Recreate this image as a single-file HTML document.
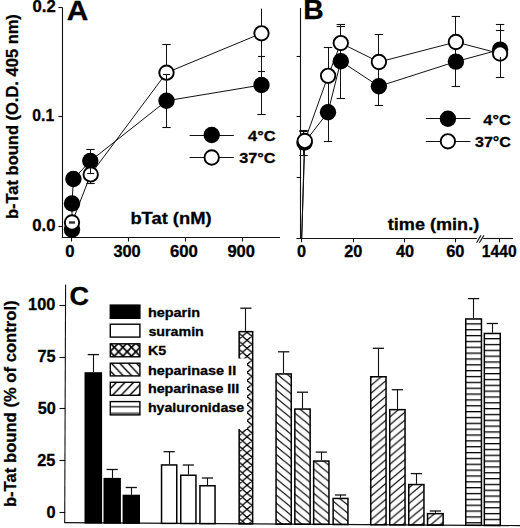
<!DOCTYPE html>
<html><head><meta charset="utf-8"><style>
html,body{margin:0;padding:0;background:#fff;}
svg{display:block;}
text{font-family:"Liberation Sans", sans-serif;font-weight:bold;fill:#000;stroke:#000;stroke-width:0.3px;stroke-linejoin:round;}
</style></head><body>
<svg width="520" height="528" viewBox="0 0 520 528">

<defs>
 <pattern id="xh" patternUnits="userSpaceOnUse" x="242.4" y="448.9" width="9.32" height="8.05">
  <path d="M-1,-0.86 L10.32,8.91 M-1,8.91 L10.32,-0.86 M-1,7.19 L1,8.91 M8.32,-0.86 L10.32,0.86" stroke="#000" stroke-width="1.3" fill="none"/>
 </pattern>
 <pattern id="bs" patternUnits="userSpaceOnUse" x="275" y="453.5" width="9.88" height="8.1">
  <path d="M-2,-1.64 L11.88,9.74 M-11.88,-1.64 L2,9.74 M7.88,-1.64 L21.76,9.74" stroke="#000" stroke-width="1.2" fill="none"/>
 </pattern>
 <pattern id="fs" patternUnits="userSpaceOnUse" x="370" y="457.3" width="9.4" height="7.9">
  <path d="M-2,9.58 L11.4,-1.68 M-11.4,9.58 L2,-1.68 M7.4,9.58 L20.8,-1.68" stroke="#000" stroke-width="1.2" fill="none"/>
 </pattern>
 <pattern id="hz" patternUnits="userSpaceOnUse" x="0" y="334.95" width="40" height="5.85">
  <rect x="0" y="0" width="40" height="1.3" fill="#000"/>
 </pattern>
 <pattern id="hz2" patternUnits="userSpaceOnUse" x="0" y="338.05" width="40" height="5.83">
  <rect x="0" y="0" width="40" height="1.3" fill="#000"/>
 </pattern>
 <pattern id="xhl" patternUnits="userSpaceOnUse" x="118.6" y="351.7" width="8.6" height="8.8">
  <path d="M-1,-1.02 L9.6,9.82 M-1,9.82 L9.6,-1.02" stroke="#000" stroke-width="1.7" fill="none"/>
 </pattern>
 <pattern id="bsl" patternUnits="userSpaceOnUse" x="119.5" y="363" width="8.4" height="8.8">
  <path d="M-2,-2.1 L10.4,10.9 M-10.4,-2.1 L2,10.9 M6.4,-2.1 L18.8,10.9" stroke="#000" stroke-width="1.4" fill="none"/>
 </pattern>
 <pattern id="fsl" patternUnits="userSpaceOnUse" x="112.9" y="394.8" width="8.6" height="8.86">
  <path d="M-2,10.92 L10.6,-2.06 M-10.6,10.92 L2,-2.06 M6.6,10.92 L19.2,-2.06" stroke="#000" stroke-width="1.4" fill="none"/>
 </pattern>
 <pattern id="hzl" patternUnits="userSpaceOnUse" x="0" y="400.7" width="40" height="14.3">
  <rect x="0" y="5.5" width="40" height="1.2" fill="#000"/>
  <rect x="0" y="11.7" width="40" height="2.0" fill="#666"/>
 </pattern>
</defs>

<rect x="0" y="0" width="520" height="528" fill="#fff"/>
<line x1="62.5" y1="7.5" x2="62.5" y2="237.8" stroke="#111" stroke-width="1.1"/>
<line x1="61.8" y1="237.5" x2="280" y2="237.5" stroke="#111" stroke-width="1.1"/>
<line x1="58.4" y1="7.5" x2="62.3" y2="7.5" stroke="#111" stroke-width="1.1"/>
<line x1="58.4" y1="116.5" x2="62.3" y2="116.5" stroke="#111" stroke-width="1.1"/>
<line x1="58.4" y1="226.5" x2="62.3" y2="226.5" stroke="#111" stroke-width="1.1"/>
<line x1="71.5" y1="237.6" x2="71.5" y2="241.5" stroke="#111" stroke-width="1.1"/>
<line x1="128.5" y1="237.6" x2="128.5" y2="241.5" stroke="#111" stroke-width="1.1"/>
<line x1="185.5" y1="237.6" x2="185.5" y2="241.5" stroke="#111" stroke-width="1.1"/>
<line x1="242.5" y1="237.6" x2="242.5" y2="241.5" stroke="#111" stroke-width="1.1"/>
<text transform="translate(32.53,12.00) scale(1.026,1)" font-size="16.3">0.2</text>
<text transform="translate(32.37,121.20) scale(0.963,1)" font-size="16.3">0.1</text>
<text transform="translate(32.33,230.70) scale(1.026,1)" font-size="16.3">0.0</text>
<text transform="translate(65.33,257.00) scale(1.033,1)" font-size="16.3">0</text>
<text transform="translate(113.39,257.00) scale(1.005,1)" font-size="16.3">300</text>
<text transform="translate(169.91,257.20) scale(1.030,1)" font-size="16.3">600</text>
<text transform="translate(227.42,257.20) scale(1.015,1)" font-size="16.3">900</text>
<text transform="translate(66.75,19.80) scale(1.047,1)" font-size="28.5">A</text>
<text transform="translate(130.41,224.20) scale(1.126,1)" font-size="16.3">bTat (nM)</text>
<line x1="189.6" y1="135.5" x2="233.8" y2="135.5" stroke="#111" stroke-width="1.0"/>
<circle cx="211.7" cy="135" r="8.2" fill="#000"/>
<line x1="189.6" y1="157.5" x2="233.8" y2="157.5" stroke="#111" stroke-width="1.0"/>
<circle cx="211.7" cy="157.5" r="7.2" fill="#fff" stroke="#000" stroke-width="1.9"/>
<text transform="translate(248.05,141.40) scale(1.058,1)" font-size="15.5">4°C</text>
<text transform="translate(239.19,163.40) scale(1.051,1)" font-size="15.5">37°C</text>
<text transform="translate(18.00,219.07) rotate(-90) scale(0.988,1)" font-size="16.7">b-Tat bound (O.D. 405 nm)</text>
<polyline points="72,229.8 72,203.5 73.4,179 90.3,161.0 166.5,100.8 261.5,85" fill="none" stroke="#111" stroke-width="1.0"/>
<polyline points="72,222.5 90.7,174.4 166.5,72.7 261.5,33.3" fill="none" stroke="#111" stroke-width="1.0"/>
<line x1="90.5" y1="149.2" x2="90.5" y2="183.8" stroke="#111" stroke-width="1.0"/>
<line x1="86.3" y1="149.5" x2="94.7" y2="149.5" stroke="#111" stroke-width="1.1"/>
<line x1="86.3" y1="183.5" x2="94.7" y2="183.5" stroke="#111" stroke-width="1.1"/>
<line x1="166.5" y1="44.6" x2="166.5" y2="127.9" stroke="#111" stroke-width="1.0"/>
<line x1="162.3" y1="44.5" x2="170.7" y2="44.5" stroke="#111" stroke-width="1.1"/>
<line x1="162.3" y1="127.5" x2="170.7" y2="127.5" stroke="#111" stroke-width="1.1"/>
<line x1="261.5" y1="8.6" x2="261.5" y2="114.1" stroke="#111" stroke-width="1.0"/>
<line x1="257.3" y1="114.5" x2="265.7" y2="114.5" stroke="#111" stroke-width="1.1"/>
<circle cx="72" cy="229.8" r="8.2" fill="#000"/>
<circle cx="72" cy="203.5" r="8.2" fill="#000"/>
<circle cx="73.4" cy="179" r="8.2" fill="#000"/>
<circle cx="90.3" cy="161.0" r="8.2" fill="#000"/>
<circle cx="166.5" cy="100.8" r="8.2" fill="#000"/>
<circle cx="261.5" cy="85" r="8.2" fill="#000"/>
<circle cx="72" cy="222.5" r="7.2" fill="#fff" stroke="#000" stroke-width="1.9"/>
<circle cx="90.7" cy="174.4" r="7.2" fill="#fff" stroke="#000" stroke-width="1.9"/>
<circle cx="166.5" cy="72.7" r="7.2" fill="#fff" stroke="#000" stroke-width="1.9"/>
<circle cx="261.5" cy="33.3" r="7.2" fill="#fff" stroke="#000" stroke-width="1.9"/>
<line x1="87.2" y1="173.5" x2="94.2" y2="173.5" stroke="#111" stroke-width="1.1"/>
<line x1="90.5" y1="167.5" x2="90.5" y2="173.4" stroke="#111" stroke-width="1.0"/>
<line x1="163.0" y1="74.5" x2="170.0" y2="74.5" stroke="#111" stroke-width="1.1"/>
<line x1="166.5" y1="74.2" x2="166.5" y2="80.5" stroke="#111" stroke-width="1.0"/>
<line x1="258.0" y1="56.5" x2="265.0" y2="56.5" stroke="#111" stroke-width="1.1"/>
<line x1="258.0" y1="71.5" x2="265.0" y2="71.5" stroke="#111" stroke-width="1.1"/>
<rect x="69" y="221.3" width="6" height="2.4" fill="#333"/>
<line x1="300.5" y1="8" x2="300.5" y2="238.6" stroke="#111" stroke-width="1.1"/>
<line x1="296.6" y1="56.5" x2="300.4" y2="56.5" stroke="#111" stroke-width="1.1"/>
<line x1="296.6" y1="116.5" x2="300.4" y2="116.5" stroke="#111" stroke-width="1.1"/>
<line x1="296.6" y1="177.5" x2="300.4" y2="177.5" stroke="#111" stroke-width="1.1"/>
<line x1="296.4" y1="238.5" x2="476.8" y2="238.5" stroke="#111" stroke-width="1.1"/>
<line x1="483.2" y1="238.5" x2="513.1" y2="238.5" stroke="#111" stroke-width="1.1"/>
<line x1="476.6" y1="242.8" x2="480.9" y2="235.4" stroke="#111" stroke-width="1.1"/>
<line x1="479.3" y1="242.8" x2="484.0" y2="235.4" stroke="#111" stroke-width="1.1"/>
<line x1="301.5" y1="238.6" x2="301.5" y2="242.3" stroke="#111" stroke-width="1.1"/>
<line x1="353.5" y1="238.6" x2="353.5" y2="242.3" stroke="#111" stroke-width="1.1"/>
<line x1="404.5" y1="238.6" x2="404.5" y2="242.3" stroke="#111" stroke-width="1.1"/>
<line x1="455.5" y1="238.6" x2="455.5" y2="242.3" stroke="#111" stroke-width="1.1"/>
<line x1="499.5" y1="238.6" x2="499.5" y2="242.3" stroke="#111" stroke-width="1.1"/>
<text transform="translate(297.08,257.10) scale(1.000,1)" font-size="16.3">0</text>
<text transform="translate(344.19,257.10) scale(1.000,1)" font-size="16.3">20</text>
<text transform="translate(396.06,257.10) scale(1.000,1)" font-size="16.3">40</text>
<text transform="translate(446.23,257.10) scale(1.008,1)" font-size="16.3">60</text>
<text transform="translate(481.78,257.10) scale(0.961,1)" font-size="16.3">1440</text>
<text transform="translate(303.36,18.75) scale(1.031,1)" font-size="27.5">B</text>
<text transform="translate(387.82,229.60) scale(1.109,1)" font-size="16.3">time (min.)</text>
<line x1="425.8" y1="118.5" x2="470.4" y2="118.5" stroke="#111" stroke-width="1.0"/>
<circle cx="447.9" cy="118.8" r="8.2" fill="#000"/>
<line x1="425.8" y1="141.5" x2="470.4" y2="141.5" stroke="#111" stroke-width="1.0"/>
<circle cx="447.9" cy="141.3" r="7.2" fill="#fff" stroke="#000" stroke-width="1.9"/>
<text transform="translate(483.25,125.20) scale(1.061,1)" font-size="15.5">4°C</text>
<text transform="translate(475.00,147.40) scale(1.036,1)" font-size="15.5">37°C</text>
<polyline points="301.7,238.6 304.5,142.5 328,112.2 340.8,61.25 378.9,86.3 455.9,61.6 500.1,49.6" fill="none" stroke="#111" stroke-width="1.0"/>
<polyline points="301.7,238.6 304.8,140.9 328.1,75.8 340.8,43.1 378.9,62 455.9,42 500.1,53.6" fill="none" stroke="#111" stroke-width="1.0"/>
<line x1="303.5" y1="130.2" x2="303.5" y2="155.5" stroke="#111" stroke-width="1.0"/>
<line x1="299.3" y1="130.5" x2="307.7" y2="130.5" stroke="#111" stroke-width="1.1"/>
<line x1="299.3" y1="131.5" x2="307.7" y2="131.5" stroke="#111" stroke-width="1.1"/>
<line x1="299.3" y1="149.5" x2="307.7" y2="149.5" stroke="#111" stroke-width="1.1"/>
<line x1="299.3" y1="155.5" x2="307.7" y2="155.5" stroke="#111" stroke-width="1.1"/>
<line x1="328.5" y1="47.7" x2="328.5" y2="141.6" stroke="#111" stroke-width="1.0"/>
<line x1="323.8" y1="47.5" x2="332.2" y2="47.5" stroke="#111" stroke-width="1.1"/>
<line x1="323.8" y1="141.5" x2="332.2" y2="141.5" stroke="#111" stroke-width="1.1"/>
<line x1="340.5" y1="24.8" x2="340.5" y2="98.3" stroke="#111" stroke-width="1.0"/>
<line x1="336.6" y1="24.5" x2="345.0" y2="24.5" stroke="#111" stroke-width="1.1"/>
<line x1="336.6" y1="26.5" x2="345.0" y2="26.5" stroke="#111" stroke-width="1.1"/>
<line x1="336.6" y1="98.5" x2="345.0" y2="98.5" stroke="#111" stroke-width="1.1"/>
<line x1="378.5" y1="34.8" x2="378.5" y2="105.2" stroke="#111" stroke-width="1.0"/>
<line x1="374.7" y1="34.5" x2="383.09999999999997" y2="34.5" stroke="#111" stroke-width="1.1"/>
<line x1="374.7" y1="105.5" x2="383.09999999999997" y2="105.5" stroke="#111" stroke-width="1.1"/>
<line x1="455.5" y1="16.7" x2="455.5" y2="86.2" stroke="#111" stroke-width="1.0"/>
<line x1="451.7" y1="16.5" x2="460.09999999999997" y2="16.5" stroke="#111" stroke-width="1.1"/>
<line x1="451.7" y1="86.5" x2="460.09999999999997" y2="86.5" stroke="#111" stroke-width="1.1"/>
<line x1="500.5" y1="24" x2="500.5" y2="77.1" stroke="#111" stroke-width="1.0"/>
<line x1="495.90000000000003" y1="24.5" x2="504.3" y2="24.5" stroke="#111" stroke-width="1.1"/>
<line x1="495.90000000000003" y1="30.5" x2="504.3" y2="30.5" stroke="#111" stroke-width="1.1"/>
<line x1="495.90000000000003" y1="77.5" x2="504.3" y2="77.5" stroke="#111" stroke-width="1.1"/>
<circle cx="304.5" cy="142.5" r="8.2" fill="#000"/>
<circle cx="328" cy="112.2" r="8.2" fill="#000"/>
<circle cx="340.8" cy="61.25" r="8.2" fill="#000"/>
<circle cx="378.9" cy="86.3" r="8.2" fill="#000"/>
<circle cx="455.9" cy="61.6" r="8.2" fill="#000"/>
<circle cx="500.1" cy="49.6" r="8.2" fill="#000"/>
<circle cx="304.8" cy="140.9" r="7.2" fill="#fff" stroke="#000" stroke-width="1.9"/>
<circle cx="328.1" cy="75.8" r="7.2" fill="#fff" stroke="#000" stroke-width="1.9"/>
<circle cx="340.8" cy="43.1" r="7.2" fill="#fff" stroke="#000" stroke-width="1.9"/>
<circle cx="378.9" cy="62" r="7.2" fill="#fff" stroke="#000" stroke-width="1.9"/>
<circle cx="455.9" cy="42" r="7.2" fill="#fff" stroke="#000" stroke-width="1.9"/>
<circle cx="500.1" cy="53.6" r="7.2" fill="#fff" stroke="#000" stroke-width="1.9"/>
<line x1="500.5" y1="57" x2="500.5" y2="62" stroke="#111" stroke-width="1.0"/>
<line x1="65.6" y1="284.5" x2="64.7" y2="523" stroke="#111" stroke-width="1.1"/>
<line x1="59.5" y1="305.5" x2="65.2" y2="305.5" stroke="#111" stroke-width="1.1"/>
<line x1="59.5" y1="357.5" x2="65.2" y2="357.5" stroke="#111" stroke-width="1.1"/>
<line x1="59.5" y1="408.5" x2="65.2" y2="408.5" stroke="#111" stroke-width="1.1"/>
<line x1="59.5" y1="460.5" x2="65.2" y2="460.5" stroke="#111" stroke-width="1.1"/>
<line x1="59.5" y1="512.5" x2="65.2" y2="512.5" stroke="#111" stroke-width="1.1"/>
<line x1="64.5" y1="522.7" x2="520" y2="525.6" stroke="#111" stroke-width="1.2"/>
<text transform="translate(69.52,305.00) scale(1.039,1)" font-size="26.0">C</text>
<text transform="translate(28.11,310.40) scale(1.000,1)" font-size="16.3">100</text>
<text transform="translate(37.51,361.80) scale(1.000,1)" font-size="16.3">75</text>
<text transform="translate(37.66,413.60) scale(1.000,1)" font-size="16.3">50</text>
<text transform="translate(37.31,465.80) scale(1.000,1)" font-size="16.3">25</text>
<text transform="translate(46.61,517.60) scale(1.000,1)" font-size="16.3">0</text>
<text transform="translate(15.70,507.08) rotate(-90) scale(0.985,1)" font-size="16.9">b-Tat bound (% of control)</text>
<line x1="93.5" y1="354.6" x2="93.5" y2="372.2" stroke="#111" stroke-width="1.1"/>
<line x1="87.7" y1="354.6" x2="98.89999999999999" y2="354.6" stroke="#111" stroke-width="1.3"/>
<rect x="85.25" y="372.95" width="16.10" height="149.93" fill="#000" stroke="#000" stroke-width="1.5"/>
<line x1="112.5" y1="469.5" x2="112.5" y2="477.9" stroke="#111" stroke-width="1.1"/>
<line x1="106.60000000000001" y1="469.5" x2="117.8" y2="469.5" stroke="#111" stroke-width="1.3"/>
<rect x="104.25" y="478.65" width="15.90" height="44.35" fill="#000" stroke="#000" stroke-width="1.5"/>
<line x1="131.5" y1="487.5" x2="131.5" y2="494.7" stroke="#111" stroke-width="1.1"/>
<line x1="125.70000000000002" y1="487.5" x2="136.9" y2="487.5" stroke="#111" stroke-width="1.3"/>
<rect x="123.35" y="495.45" width="15.90" height="27.68" fill="#000" stroke="#000" stroke-width="1.5"/>
<line x1="169.5" y1="451.7" x2="169.5" y2="464.2" stroke="#111" stroke-width="1.1"/>
<line x1="163.55" y1="451.7" x2="174.75" y2="451.7" stroke="#111" stroke-width="1.3"/>
<rect x="161.55" y="464.95" width="15.20" height="58.42" fill="#fff" stroke="#000" stroke-width="1.5"/>
<line x1="188.5" y1="465.0" x2="188.5" y2="474.5" stroke="#111" stroke-width="1.1"/>
<line x1="182.75" y1="465.0" x2="193.95" y2="465.0" stroke="#111" stroke-width="1.3"/>
<rect x="180.75" y="475.25" width="15.20" height="48.24" fill="#fff" stroke="#000" stroke-width="1.5"/>
<line x1="207.5" y1="478.0" x2="207.5" y2="485.0" stroke="#111" stroke-width="1.1"/>
<line x1="201.9" y1="478.0" x2="213.1" y2="478.0" stroke="#111" stroke-width="1.3"/>
<rect x="199.95" y="485.75" width="15.10" height="37.86" fill="#fff" stroke="#000" stroke-width="1.5"/>
<line x1="245.5" y1="308.2" x2="245.5" y2="330.9" stroke="#111" stroke-width="1.1"/>
<line x1="240.3" y1="308.2" x2="251.5" y2="308.2" stroke="#111" stroke-width="1.3"/>
<rect x="239.15" y="331.65" width="13.50" height="192.20" fill="url(#xh)" stroke="#000" stroke-width="1.5"/>
<line x1="283.5" y1="351.8" x2="283.5" y2="373.2" stroke="#111" stroke-width="1.1"/>
<line x1="278.04999999999995" y1="351.8" x2="289.25" y2="351.8" stroke="#111" stroke-width="1.3"/>
<rect x="276.05" y="373.95" width="15.20" height="150.15" fill="url(#bs)" stroke="#000" stroke-width="1.5"/>
<line x1="302.5" y1="392.2" x2="302.5" y2="408.3" stroke="#111" stroke-width="1.1"/>
<line x1="296.9" y1="392.2" x2="308.1" y2="392.2" stroke="#111" stroke-width="1.3"/>
<rect x="294.85" y="409.05" width="15.30" height="115.17" fill="url(#bs)" stroke="#000" stroke-width="1.5"/>
<line x1="321.5" y1="452.1" x2="321.5" y2="460.3" stroke="#111" stroke-width="1.1"/>
<line x1="315.69999999999993" y1="452.1" x2="326.9" y2="452.1" stroke="#111" stroke-width="1.3"/>
<rect x="313.65" y="461.05" width="15.30" height="63.28" fill="url(#bs)" stroke="#000" stroke-width="1.5"/>
<line x1="340.5" y1="495.0" x2="340.5" y2="497.7" stroke="#111" stroke-width="1.1"/>
<line x1="334.94999999999993" y1="495.0" x2="346.15" y2="495.0" stroke="#111" stroke-width="1.3"/>
<rect x="333.15" y="498.45" width="14.80" height="26.01" fill="url(#bs)" stroke="#000" stroke-width="1.5"/>
<line x1="378.5" y1="348.3" x2="378.5" y2="376.0" stroke="#111" stroke-width="1.1"/>
<line x1="372.79999999999995" y1="348.3" x2="384.0" y2="348.3" stroke="#111" stroke-width="1.3"/>
<rect x="370.75" y="376.75" width="15.30" height="147.95" fill="url(#fs)" stroke="#000" stroke-width="1.5"/>
<line x1="397.5" y1="389.7" x2="397.5" y2="408.9" stroke="#111" stroke-width="1.1"/>
<line x1="391.79999999999995" y1="389.7" x2="403.0" y2="389.7" stroke="#111" stroke-width="1.3"/>
<rect x="389.75" y="409.65" width="15.30" height="115.17" fill="url(#fs)" stroke="#000" stroke-width="1.5"/>
<line x1="416.5" y1="473.6" x2="416.5" y2="483.8" stroke="#111" stroke-width="1.1"/>
<line x1="410.75" y1="473.6" x2="421.95000000000005" y2="473.6" stroke="#111" stroke-width="1.3"/>
<rect x="408.75" y="484.55" width="15.20" height="40.39" fill="url(#fs)" stroke="#000" stroke-width="1.5"/>
<line x1="435.5" y1="511.0" x2="435.5" y2="512.9" stroke="#111" stroke-width="1.1"/>
<line x1="429.75" y1="511.0" x2="440.95000000000005" y2="511.0" stroke="#111" stroke-width="1.3"/>
<rect x="427.55" y="513.65" width="15.60" height="11.41" fill="url(#fs)" stroke="#000" stroke-width="1.5"/>
<line x1="473.5" y1="298.6" x2="473.5" y2="318.2" stroke="#111" stroke-width="1.1"/>
<line x1="468.0" y1="298.6" x2="479.20000000000005" y2="298.6" stroke="#111" stroke-width="1.3"/>
<rect x="465.75" y="318.95" width="15.70" height="206.35" fill="url(#hz)" stroke="#000" stroke-width="1.5"/>
<line x1="492.5" y1="323.5" x2="492.5" y2="332.7" stroke="#111" stroke-width="1.1"/>
<line x1="486.7" y1="323.5" x2="497.90000000000003" y2="323.5" stroke="#111" stroke-width="1.3"/>
<rect x="484.35" y="333.45" width="15.90" height="191.97" fill="url(#hz2)" stroke="#000" stroke-width="1.5"/>
<rect x="236" y="358.5" width="11" height="70.6" fill="#fff"/>
<rect x="110.3" y="305.09999999999997" width="29.6" height="13.200000000000022" fill="#000" stroke="#000" stroke-width="1.4"/>
<rect x="110.3" y="324.2" width="29.6" height="12.900000000000011" fill="#fff" stroke="#000" stroke-width="1.4"/>
<rect x="110.3" y="343.8" width="29.6" height="12.999999999999977" fill="url(#xhl)" stroke="#000" stroke-width="1.4"/>
<rect x="110.3" y="363.2" width="29.6" height="12.700000000000022" fill="url(#bsl)" stroke="#000" stroke-width="1.4"/>
<rect x="110.3" y="382.3" width="29.6" height="12.999999999999977" fill="url(#fsl)" stroke="#000" stroke-width="1.4"/>
<rect x="110.3" y="401.59999999999997" width="29.6" height="13.300000000000045" fill="url(#hzl)" stroke="#000" stroke-width="1.4"/>
<text transform="translate(147.89,316.90) scale(1.087,1)" font-size="13.3">heparin</text>
<text transform="translate(148.40,336.00) scale(1.072,1)" font-size="13.3">suramin</text>
<text transform="translate(147.97,355.00) scale(1.072,1)" font-size="13.3">K5</text>
<text transform="translate(147.89,374.50) scale(1.086,1)" font-size="13.3">heparinase II</text>
<text transform="translate(147.90,393.10) scale(1.076,1)" font-size="13.3">heparinase III</text>
<text transform="translate(147.91,411.70) scale(1.068,1)" font-size="13.3">hyaluronidase</text>
</svg>
</body></html>
